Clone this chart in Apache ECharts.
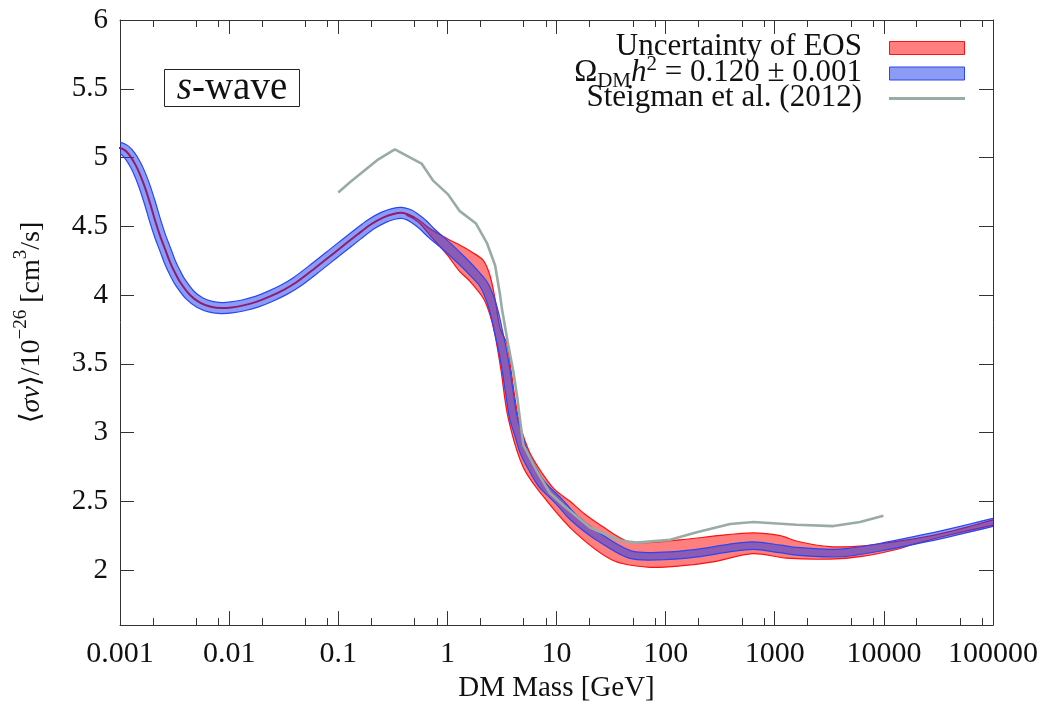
<!DOCTYPE html>
<html><head><meta charset="utf-8">
<script src="https://cdn.jsdelivr.net/npm/echarts@6/dist/echarts.min.js"></script>
<style>html,body{margin:0;padding:0;background:#fff}#c{width:1051px;height:708px}</style>
</head><body><div id="c"></div>
<script>
// ---------- data ----------
const xTickVals = [0.001, 0.01, 0.1, 1, 10, 100, 1000, 10000, 100000];
const xTickLabels = ['0.001', '0.01', '0.1', '1', '10', '100', '1000', '10000', '100000'];
const xMinorVals = [0.002, 0.005, 0.008, 0.02, 0.05, 0.08, 0.2, 0.5, 0.8, 2, 5, 8, 20, 50, 80,
  200, 500, 800, 2000, 5000, 8000, 20000, 50000, 80000];
const yTickVals = [2, 2.5, 3, 3.5, 4, 4.5, 5, 5.5, 6];
const yTickLabels = ['2', '2.5', '3', '3.5', '4', '4.5', '5', '5.5', '6'];

// central relic-abundance curve (Omega h^2 = 0.120)
const centerCurve = [
  [0.00092, 5.07], [0.001, 5.07], [0.00112, 5.05], [0.00124, 5.01], [0.00138, 4.95], [0.00152, 4.88],
  [0.00168, 4.79], [0.00188, 4.67], [0.0021, 4.54], [0.00233, 4.43], [0.0026, 4.33],
  [0.00287, 4.24], [0.0032, 4.16], [0.00355, 4.095], [0.00438, 4.0], [0.0054, 3.945],
  [0.0068, 3.915], [0.0085, 3.905], [0.0105, 3.91], [0.0135, 3.925], [0.018, 3.952],
  [0.0237, 3.99], [0.032, 4.04], [0.0417, 4.095], [0.06, 4.19], [0.1, 4.33], [0.15, 4.44],
  [0.2, 4.515], [0.26, 4.565], [0.32, 4.59], [0.38, 4.598], [0.44, 4.585], [0.5, 4.56],
  [0.6, 4.51], [0.7, 4.457], [1.0, 4.35], [1.4, 4.24], [1.8, 4.15], [2.14, 4.08],
  [2.46, 3.975], [2.73, 3.854], [2.97, 3.72], [3.24, 3.58], [3.45, 3.455], [3.67, 3.31],
  [4.03, 3.105], [4.48, 2.986], [4.98, 2.866], [5.94, 2.745], [7.33, 2.624], [10.4, 2.504],
  [14.3, 2.383], [23.4, 2.25], [47.3, 2.113], [95.5, 2.103], [193, 2.123], [390, 2.161],
  [638, 2.178], [1122, 2.154], [1590, 2.137], [3220, 2.123], [4570, 2.128], [9250, 2.166],
  [18600, 2.214], [38000, 2.267], [110000, 2.355]
];
// EOS uncertainty band edges
const eosUpper = [
  [0.42, 4.59], [0.5, 4.565], [0.56, 4.54], [0.7, 4.48], [1.0, 4.41], [1.4, 4.35],
  [1.7, 4.31], [2.14, 4.25], [2.46, 4.14], [2.73, 3.975], [3.04, 3.76], [3.54, 3.64],
  [3.81, 3.468], [4.48, 3.105], [5.5, 2.88], [6.83, 2.745], [9.5, 2.59], [13.3, 2.5],
  [18, 2.41], [25, 2.33], [47, 2.205], [135, 2.22], [300, 2.25], [630, 2.27],
  [1120, 2.25], [1600, 2.21], [3200, 2.17], [6000, 2.175], [10000, 2.195], [20000, 2.23],
  [40000, 2.28], [110000, 2.375]
];
const eosLower = [
  [0.42, 4.58], [0.5, 4.55], [0.56, 4.52], [0.7, 4.43], [1.0, 4.29], [1.3, 4.17],
  [1.61, 4.1], [2.14, 3.975], [2.46, 3.854], [2.73, 3.71], [3.08, 3.468], [3.61, 3.105],
  [4.98, 2.745], [8.15, 2.504], [15.3, 2.263], [33, 2.07], [68, 2.022], [135, 2.03],
  [272, 2.06], [630, 2.12], [1280, 2.087], [3200, 2.08], [6300, 2.1], [13000, 2.15],
  [20000, 2.195], [40000, 2.255], [110000, 2.335]
];
// Steigman et al. (2012)
const steigman = [
  [0.1, 4.746], [0.128, 4.82], [0.233, 4.987], [0.33, 5.06], [0.58, 4.956], [0.744, 4.83],
  [1.02, 4.73], [1.3, 4.61], [1.83, 4.52], [2.3, 4.38], [2.74, 4.215], [3.04, 4.0],
  [3.16, 3.9], [3.57, 3.66], [4.03, 3.44], [4.38, 3.25], [4.57, 3.13], [4.97, 2.91],
  [6.6, 2.72], [8.7, 2.56], [11.6, 2.47], [20.3, 2.31], [38, 2.215], [54, 2.2],
  [110, 2.22], [193, 2.275], [390, 2.335], [638, 2.35], [1580, 2.33], [3450, 2.32],
  [6050, 2.35], [9900, 2.395]
];

// ---------- styling ----------
const SERIF = "'Liberation Serif', 'DejaVu Serif', serif";
const AX = '#333';
const RED_FILL = 'rgba(255,0,0,0.5)', RED_EDGE = '#ff1010';
const BLUE_FILL = 'rgba(25,57,235,0.5)', BLUE_EDGE = 'rgb(40,70,245)';
const GRAY = '#9aaba6';

function bandHalfWidth(x) { // perpendicular half thickness of the blue band (px)
  const l = Math.log10(x);
  if (l <= -0.4) return 5.5;
  if (l >= 0.6) return 3.8;
  return 5.5 + (l + 0.4) * (3.8 - 5.5);
}
function clipOf(params) {
  const cs = params.coordSys;
  return { type: 'rect', shape: { x: cs.x, y: cs.y, width: cs.width, height: cs.height } };
}
function renderEOS(params, api) {
  const up = eosUpper.map(p => api.coord(p));
  const lo = eosLower.map(p => api.coord(p));
  return {
    type: 'group', clipPath: clipOf(params), children: [
      { type: 'polygon', shape: { points: up.concat(lo.slice().reverse()), smooth: 0.3 },
        style: { fill: RED_FILL, stroke: null } },
      { type: 'polyline', shape: { points: up, smooth: 0.3 }, style: { stroke: RED_EDGE, lineWidth: 1.2, fill: null } },
      { type: 'polyline', shape: { points: lo, smooth: 0.3 }, style: { stroke: RED_EDGE, lineWidth: 1.2, fill: null } }
    ]
  };
}
function renderOmega(params, api) {
  const pts = centerCurve.map(p => api.coord(p));
  const n = pts.length, up = [], lo = [];
  for (let i = 0; i < n; i++) {
    const a = pts[Math.max(0, i - 1)], b = pts[Math.min(n - 1, i + 1)];
    const dx = b[0] - a[0], dy = b[1] - a[1];
    const L = Math.hypot(dx, dy) || 1;
    const nx = -dy / L, ny = dx / L;
    const hw = bandHalfWidth(centerCurve[i][0]);
    up.push([pts[i][0] + nx * hw, pts[i][1] + ny * hw]);
    lo.push([pts[i][0] - nx * hw, pts[i][1] - ny * hw]);
  }
  return {
    type: 'group', clipPath: clipOf(params), children: [
      { type: 'polygon', shape: { points: up.concat(lo.slice().reverse()), smooth: 0.3 },
        style: { fill: BLUE_FILL, stroke: null } },
      { type: 'polyline', shape: { points: up, smooth: 0.3 }, style: { stroke: BLUE_EDGE, lineWidth: 1.2, fill: null } },
      { type: 'polyline', shape: { points: lo, smooth: 0.3 }, style: { stroke: BLUE_EDGE, lineWidth: 1.2, fill: null } }
    ]
  };
}

const logX = (extra) => Object.assign({
  type: 'log', logBase: 10, min: 0.001, max: 100000, gridIndex: 0,
  splitLine: { show: false }, minorTick: { show: false }
}, extra);
const yBase = (extra) => Object.assign({
  type: 'value', min: 1.6, max: 6, gridIndex: 0, splitLine: { show: false }
}, extra);

const chart = echarts.init(document.getElementById('c'), null, { renderer: 'canvas' });
chart.setOption({
  animation: false,
  backgroundColor: '#fff',
  grid: { left: 120, right: 58, top: 20, bottom: 80, containLabel: false },
  xAxis: [
    logX({
      position: 'bottom',
      axisLine: { show: true, lineStyle: { color: AX, width: 1 } },
      axisTick: { show: true, inside: true, length: 14, customValues: xTickVals, lineStyle: { color: AX } },
      axisLabel: {
        show: true, customValues: xTickVals, margin: 14, color: '#111', fontSize: 30, fontFamily: SERIF,
        formatter: v => xTickLabels[Math.round(Math.log10(v)) + 3]
      },
      name: 'DM Mass [GeV]', nameLocation: 'middle', nameGap: 47,
      nameTextStyle: { fontSize: 29, fontFamily: SERIF, color: '#111' }
    }),
    logX({
      position: 'bottom',
      axisLine: { show: false }, axisLabel: { show: false },
      axisTick: { show: true, inside: true, length: 7, customValues: xMinorVals, lineStyle: { color: AX } }
    }),
    logX({
      position: 'top',
      axisLine: { show: true, lineStyle: { color: AX, width: 1 } }, axisLabel: { show: false },
      axisTick: { show: true, inside: true, length: 14, customValues: xTickVals, lineStyle: { color: AX } }
    }),
    logX({
      position: 'top',
      axisLine: { show: false }, axisLabel: { show: false },
      axisTick: { show: true, inside: true, length: 7, customValues: xMinorVals, lineStyle: { color: AX } }
    })
  ],
  yAxis: [
    yBase({
      position: 'left',
      axisLine: { show: true, lineStyle: { color: AX, width: 1 } },
      axisTick: { show: true, inside: true, length: 14, customValues: yTickVals, lineStyle: { color: AX } },
      axisLabel: {
        show: true, customValues: yTickVals, margin: 12, color: '#111', fontSize: 29, fontFamily: SERIF,
        formatter: v => yTickLabels[Math.round((v - 2) * 2)]
      },
      name: '⟨{i|σv}⟩/10{sup|−26} [cm{sup|3}/s]', nameLocation: 'middle', nameGap: 68, nameRotate: 90,
      nameTextStyle: {
        fontSize: 28, fontFamily: SERIF, color: '#111', lineHeight: 40,
        rich: {
          i: { fontSize: 28, fontFamily: SERIF, fontStyle: 'italic', color: '#111', lineHeight: 40 },
          sup: { fontSize: 19, fontFamily: SERIF, color: '#111', verticalAlign: 'top', lineHeight: 22 }
        }
      }
    }),
    yBase({
      position: 'right',
      axisLine: { show: true, lineStyle: { color: AX, width: 1 } },
      axisTick: { show: true, inside: true, length: 14, customValues: yTickVals, lineStyle: { color: AX } },
      axisLabel: { show: false }
    })
  ],
  series: [
    { name: 'Uncertainty of EOS', type: 'custom', xAxisIndex: 0, yAxisIndex: 0, z: 1,
      renderItem: renderEOS, data: [[1, 4]], silent: true },
    { name: 'central', type: 'line', xAxisIndex: 0, yAxisIndex: 0, showSymbol: false, smooth: 0.3, z: 2,
      data: centerCurve.filter(p => p[0] <= 0.5), lineStyle: { color: '#ff0000', width: 2 }, silent: true },
    { name: 'Omega', type: 'custom', xAxisIndex: 0, yAxisIndex: 0, z: 3,
      renderItem: renderOmega, data: [[1, 4]], silent: true },
    { name: 'Steigman et al. (2012)', type: 'line', xAxisIndex: 0, yAxisIndex: 0, showSymbol: false, z: 4,
      data: steigman, lineStyle: { color: GRAY, width: 2.6 }, silent: true }
  ],
  graphic: [
    // s-wave label box
    { type: 'rect', shape: { x: 164.5, y: 69.5, width: 135, height: 37 },
      style: { fill: '#fff', stroke: '#222', lineWidth: 1 }, z: 100 },
    { type: 'text', x: 232, y: 89, z: 101,
      style: { text: '{i|s}-wave', fontSize: 39, fontFamily: SERIF, fill: '#111',
        align: 'center', verticalAlign: 'middle', textAlign: 'center', textVerticalAlign: 'middle',
        rich: { i: { fontSize: 39, fontFamily: SERIF, fontStyle: 'italic', fill: '#111' } } } },
    // legend
    { type: 'text', x: 862, y: 47, z: 101,
      style: { text: 'Uncertainty of EOS', fontSize: 31, fontFamily: SERIF, fill: '#111',
        align: 'right', verticalAlign: 'middle', textAlign: 'right', textVerticalAlign: 'middle' } },
    { type: 'text', x: 862, y: 73, z: 101,
      style: { text: 'Ω{sub|DM}{i|h}{sup|2} = 0.120 ± 0.001', fontSize: 31, fontFamily: SERIF, fill: '#111',
        lineHeight: 38,
        align: 'right', verticalAlign: 'middle', textAlign: 'right', textVerticalAlign: 'middle',
        rich: {
          sub: { fontSize: 21, fontFamily: SERIF, fill: '#111', verticalAlign: 'bottom', lineHeight: 22 },
          i: { fontSize: 31, fontFamily: SERIF, fontStyle: 'italic', fill: '#111', lineHeight: 38 },
          sup: { fontSize: 21, fontFamily: SERIF, fill: '#111', verticalAlign: 'top', lineHeight: 22 }
        } } },
    { type: 'text', x: 862, y: 98, z: 101,
      style: { text: 'Steigman et al. (2012)', fontSize: 31, fontFamily: SERIF, fill: '#111',
        align: 'right', verticalAlign: 'middle', textAlign: 'right', textVerticalAlign: 'middle' } },
    { type: 'rect', z: 101, shape: { x: 889.5, y: 41.5, width: 75, height: 13 },
      style: { fill: RED_FILL, stroke: RED_EDGE, lineWidth: 1 } },
    { type: 'rect', z: 101, shape: { x: 889.5, y: 67, width: 75, height: 13 },
      style: { fill: BLUE_FILL, stroke: BLUE_EDGE, lineWidth: 1 } },
    { type: 'line', z: 101, shape: { x1: 889, y1: 98.5, x2: 965, y2: 98.5 },
      style: { stroke: GRAY, lineWidth: 3 } }
  ]
});
</script></body></html>
